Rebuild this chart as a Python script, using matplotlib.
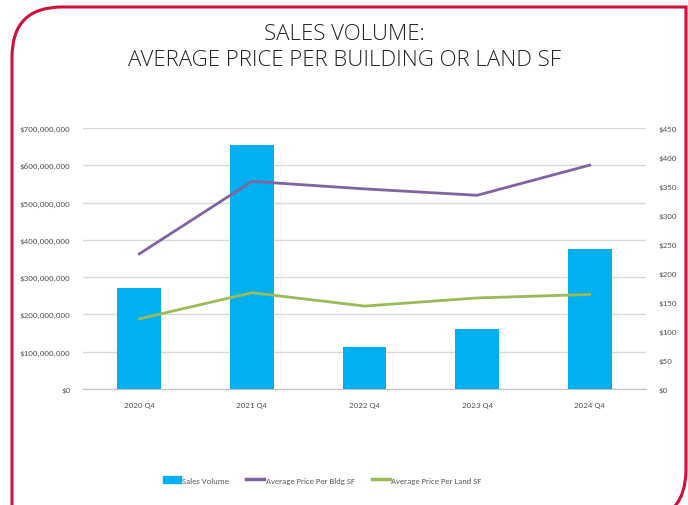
import matplotlib
matplotlib.use('Agg')
import matplotlib.pyplot as plt
from matplotlib.path import Path
from matplotlib.patches import PathPatch, Patch
from matplotlib.lines import Line2D
from matplotlib.ticker import FuncFormatter, MultipleLocator

quarters = ['2020 Q4', '2021 Q4', '2022 Q4', '2023 Q4', '2024 Q4']
sales_volume = [270e6, 654e6, 112e6, 161e6, 376e6]
price_bldg = [233, 358, 345, 334, 386]
price_land = [121, 166, 143, 157, 163]

blue = '#00B0F0'
purple = '#8064A2'
green = '#9BBB59'
grey_txt = '#595959'
font_small = ['Carlito', 'DejaVu Sans']

W, H = 688, 506
fig = plt.figure(figsize=(W / 100, H / 100), dpi=100)

# rounded red frame, drawn in pixel coords
def px(x, y):
    return x / W, 1 - y / H

r = 50
verts = [px(12, 520), px(12, 8 + r), px(12, 8), px(12 + r, 8),
         px(686, 8), px(686, 470), px(686, 520), px(640, 520)]
codes = [Path.MOVETO, Path.LINETO, Path.CURVE3, Path.CURVE3,
         Path.LINETO, Path.LINETO, Path.CURVE3, Path.CURVE3]
fig.patches.append(PathPatch(Path(verts, codes), transform=fig.transFigure,
                             fill=False, edgecolor='#D0103A', linewidth=2.2))

title_font = ['Open Sans', 'DejaVu Sans']
fig.text(0.5, 1 - 34 / H, 'SALES VOLUME:', ha='center', va='center',
         fontsize=16, color='#222222', fontweight=300, family=title_font)
fig.text(0.5, 1 - 61 / H, 'AVERAGE PRICE PER BUILDING OR LAND SF', ha='center',
         va='center', fontsize=16, color='#222222', fontweight=300,
         family=title_font)

ax = fig.add_axes([83 / W, 1 - 390 / H, (646 - 83) / W, (390 - 129) / H])
x = range(len(quarters))
ax.bar(x, sales_volume, width=0.39, color=blue, zorder=2)
ax.set_ylim(0, 700e6)
ax.set_xlim(-0.5, len(quarters) - 0.5)
ax.yaxis.set_major_locator(MultipleLocator(100e6))
ax.yaxis.set_major_formatter(FuncFormatter(lambda v, p: '${:,.0f}'.format(v)))
ax.grid(axis='y', color='#D9D9D9', linewidth=1, zorder=0)
ax.set_xticks(list(x))
ax.set_xticklabels(quarters)

ax2 = ax.twinx()
ax2.plot(x, price_bldg, color=purple, linewidth=2, zorder=3)
ax2.plot(x, price_land, color=green, linewidth=2, zorder=3)
ax2.set_ylim(0, 450)
ax2.yaxis.set_major_locator(MultipleLocator(50))
ax2.yaxis.set_major_formatter(FuncFormatter(lambda v, p: '${:,.0f}'.format(v)))

for a in (ax, ax2):
    for s in a.spines.values():
        s.set_visible(False)
    a.tick_params(length=0, labelsize=6.5, labelcolor=grey_txt)
    for lab in a.get_xticklabels() + a.get_yticklabels():
        lab.set_family(font_small)
ax.spines['bottom'].set_visible(True)
ax.spines['bottom'].set_color('#BFBFBF')
ax.tick_params(axis='y', pad=9)
ax.tick_params(axis='x', pad=9)
ax2.tick_params(axis='y', pad=9)

handles = [Patch(color=blue), Line2D([], [], color=purple, linewidth=2.5),
           Line2D([], [], color=green, linewidth=2.5)]
labels = ['Sales Volume', 'Average Price Per Bldg SF', 'Average Price Per Land SF']
fig.legend(handles, labels, loc='center', bbox_to_anchor=(322 / W, 1 - 481 / H),
           ncol=3, frameon=False, handlelength=2.1, handletextpad=0.15,
           columnspacing=2.0, prop={'family': font_small, 'size': 6.2},
           labelcolor=grey_txt)

fig.savefig('out.png', dpi=100)
